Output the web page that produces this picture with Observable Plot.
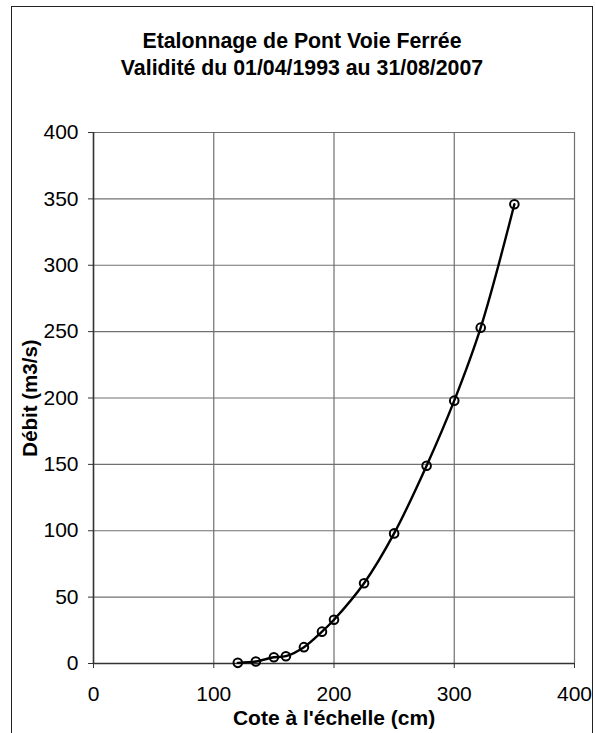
<!DOCTYPE html>
<html>
<head>
<meta charset="utf-8">
<script src="https://cdn.jsdelivr.net/npm/d3@7"></script>
<script src="https://cdn.jsdelivr.net/npm/@observablehq/plot@0.6"></script>
<style>
  html, body { margin: 0; padding: 0; background: #fff; overflow: hidden; }
  #wrap { position: relative; width: 596px; height: 733px; font-family: "Liberation Sans", Arial, sans-serif; }
  #frame { position: absolute; left: 11px; top: 6px; width: 582px; height: 760px; border: 1.5px solid #222; box-sizing: border-box; }
  #title { position: absolute; left: 0px; width: 604px; top: 28px; text-align: center; font-weight: bold; font-size: 21.3px; line-height: 27px; color: #000; }
  #chart { position: absolute; left: 0; top: 120px; }
</style>
</head>
<body>
<div id="wrap">
  <div id="frame"></div>
  <div id="title">Etalonnage de Pont Voie Ferrée<br>Validité du 01/04/1993 au 31/08/2007</div>
  <div id="chart"></div>
</div>
<script>
const cote = [120, 135, 150, 160, 175, 190, 200, 225, 250, 277, 300, 322, 350];
const debit = [0.5, 1.5, 4.7, 5.5, 12.3, 24, 33, 60.5, 98, 149, 198, 253, 346];
const xTicks = [0, 100, 200, 300, 400];
const yTicks = [0, 50, 100, 150, 200, 250, 300, 350, 400];
const xLabel = "Cote à l'échelle (cm)";
const yLabel = "Débit (m3/s)";

const data = cote.map((c, i) => ({x: c, y: debit[i]}));

const chart = Plot.plot({
  width: 596,
  height: 613,
  marginLeft: 93,
  marginRight: 22,
  marginTop: 12,
  marginBottom: 70,
  style: {fontFamily: "'Liberation Sans', Arial, sans-serif", fontSize: "21px", background: "transparent", color: "#000"},
  x: {domain: [0, 400]},
  y: {domain: [0, 400]},
  marks: [
    Plot.gridY(yTicks, {stroke: "#707070", strokeOpacity: 1, strokeWidth: 1.2}),
    Plot.gridX(xTicks, {stroke: "#707070", strokeOpacity: 1, strokeWidth: 1.2}),
    Plot.ruleX([0], {stroke: "#333", strokeWidth: 1.5}),
    Plot.ruleY([0], {stroke: "#333", strokeWidth: 1.5}),
    Plot.axisY(yTicks, {tickSize: 5, tickPadding: 10, label: null, stroke: "#333", fontSize: 21}),
    Plot.axisX(xTicks, {tickSize: 5, tickPadding: 18, label: null, stroke: "#333", fontSize: 21}),
    Plot.line(data, {x: "x", y: "y", curve: "catmull-rom", stroke: "#000", strokeWidth: 2.4}),
    Plot.dot(data, {x: "x", y: "y", r: 4.3, stroke: "#000", strokeWidth: 2, fill: "none"}),
    Plot.text([xLabel], {frameAnchor: "bottom", dy: 55, lineAnchor: "middle", textAnchor: "middle", text: d => d, fontWeight: "bold", fontSize: 21, fill: "#000"}),
    Plot.text([yLabel], {frameAnchor: "left", dx: -63, rotate: -90, lineAnchor: "middle", textAnchor: "middle", text: d => d, fontWeight: "bold", fontSize: 20.5, fill: "#000"})
  ]
});
document.getElementById("chart").appendChild(chart);
</script>
</body>
</html>
